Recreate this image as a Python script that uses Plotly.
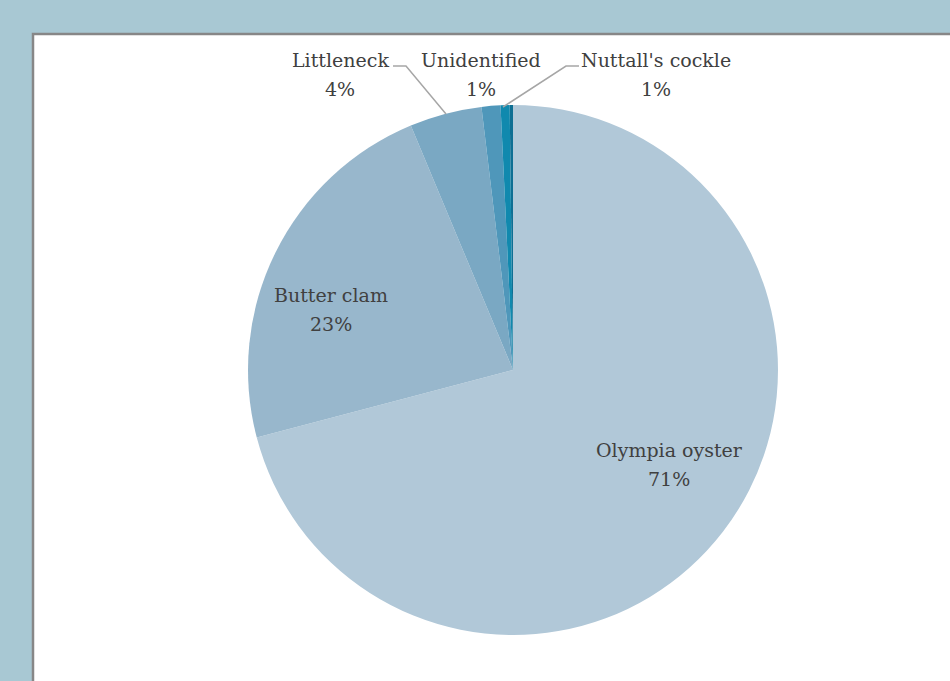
import plotly.graph_objects as go

categories = ["Olympia oyster", "Butter clam", "Littleneck", "Unidentified", "Nuttall's cockle", "Other"]
values = [70.9, 22.8, 4.4, 1.15, 0.55, 0.2]
pct_labels = ["71%", "23%", "4%", "1%", "1%", ""]
colors = ["#b1c8d8", "#98b7cc", "#7aa8c3", "#4f97ba", "#1089ae", "#0e6f93"]

W, H = 950, 681
cx, cy, R = 513, 370, 265
FONT = "DejaVu Serif"
FS = 19

fig = go.Figure()
fig.add_trace(go.Pie(
    labels=categories, values=values, sort=False, direction="clockwise", rotation=0,
    marker=dict(colors=colors, line=dict(color="white", width=0)),
    textinfo="none", hoverinfo="label+percent", showlegend=False,
    domain=dict(x=[(cx - R) / W, (cx + R) / W], y=[(H - cy - R) / H, (H - cy + R) / H]),
))

def px(x):
    return x / W

def py(y):
    return 1 - y / H

# (center x, name line y, percent line y) in pixels
label_pos = {
    "Olympia oyster": (669, 450, 479),
    "Butter clam": (331, 295, 324),
    "Littleneck": (340, 60, 89),
    "Unidentified": (481, 60, 89),
    "Nuttall's cockle": (656, 60, 89),
}
for cat, pct in zip(categories, pct_labels):
    if cat in label_pos:
        x, y1, y2 = label_pos[cat]
        for txt, y in ((cat, y1), (pct, y2)):
            fig.add_annotation(x=px(x), y=py(y), xref="paper", yref="paper",
                               text=txt, showarrow=False,
                               font=dict(family=FONT, size=FS, color="#404040"),
                               xanchor="center", yanchor="middle")

shapes = [
    dict(type="rect", xref="paper", yref="paper", x0=px(33), y0=-0.1, x1=1.1, y1=py(34),
         fillcolor="white", line=dict(color="#878787", width=2.5), layer="below"),
    dict(type="path", xref="paper", yref="paper",
         path=f"M {px(393)},{py(66)} L {px(406)},{py(66)} L {px(446)},{py(114)}",
         line=dict(color="#a6a6a6", width=1.5)),
    dict(type="path", xref="paper", yref="paper",
         path=f"M {px(579)},{py(66)} L {px(566)},{py(66)} L {px(503)},{py(107)}",
         line=dict(color="#a6a6a6", width=1.5)),
]

fig.update_layout(
    width=W, height=H,
    margin=dict(l=0, r=0, t=0, b=0),
    paper_bgcolor="#a8c8d3",
    plot_bgcolor="#a8c8d3",
    font=dict(family=FONT, color="#404040"),
    shapes=shapes,
)

fig.write_html("out.html", config={"displayModeBar": False},
               post_script="document.body.style.margin='0';document.body.style.padding='0';")
